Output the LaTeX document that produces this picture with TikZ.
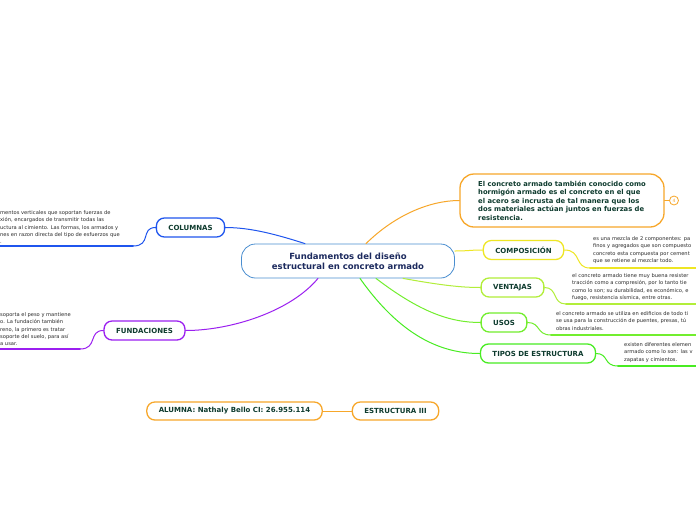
\documentclass[tikz,border=0pt]{standalone}
\usepackage{fontspec}
\setmainfont{DejaVu Sans}
\usepackage{xcolor}
\usepackage{tikz}
\usetikzlibrary{calc}
\definecolor{bg}{HTML}{FFFFFF}
\definecolor{ink}{HTML}{0E3B2E}
\definecolor{navy}{HTML}{1C2A5E}
\definecolor{muted}{HTML}{2A2A2A}
\definecolor{rootc}{HTML}{4A8ED0}
\definecolor{colc}{HTML}{1F55EE}
\definecolor{func}{HTML}{9B1FF0}
\definecolor{orng}{HTML}{F7A72A}
\definecolor{yell}{HTML}{EEE624}
\definecolor{lime}{HTML}{B2EE3A}
\definecolor{grn}{HTML}{72EE2E}
\definecolor{grnb}{HTML}{48EC22}
\tikzset{
  root/.style={draw=rootc, line width=0.8pt, rounded corners=14pt, minimum width=213pt, minimum height=34pt, align=center, text=navy, font=\bfseries\fontsize{8.5}{10.5}\selectfont},
  topic/.style={fill=bg, line width=1.3pt, rounded corners=8pt, minimum height=19pt, inner xsep=12pt, text=ink, font=\bfseries\fontsize{7}{8}\selectfont},
  note/.style={anchor=north west, inner sep=0pt, align=left, text=muted, font=\fontsize{5.15}{7.2}\selectfont},
  link/.style={line width=1pt, line cap=round},
  under/.style={line width=1.8pt, line cap=round},
}
\begin{document}
\begin{tikzpicture}[x=1pt,y=-1pt]
  \useasboundingbox[fill=bg] (0,0) rectangle (696,520);
  \clip (0,0) rectangle (696,520);

  % root and main topics
  \node[root] (fund) at (348,261) {Fundamentos del diseño\\estructural en concreto armado};
  \node[topic, draw=colc] (col) at (190.5,227.5) {COLUMNAS};
  \node[topic, draw=func] (fun) at (144.5,330.5) {FUNDACIONES};
  \node[topic, draw=orng, rounded corners=14pt, minimum width=204pt, minimum height=53pt, align=left, font=\bfseries\fontsize{6.8}{8.5}\selectfont] (def) at (562,200.5)
    {El concreto armado también conocido como\\hormigón armado es el concreto en el que\\el acero se incrusta de tal manera que los\\dos materiales actúan juntos en fuerzas de\\resistencia.};
  \node[circle, draw=orng, line width=0.8pt, inner sep=0pt, minimum size=9pt, text=orng, font=\fontsize{4.5}{5}\selectfont] (cnt) at (674,200.5) {4};
  \node[topic, draw=yell] (comp) at (523.5,250) {COMPOSICIÓN};
  \node[topic, draw=lime] (ven) at (512.5,287.5) {VENTAJAS};
  \node[topic, draw=grn] (usos) at (504,322.5) {USOS};
  \node[topic, draw=grnb] (tipos) at (538,353.5) {TIPOS DE ESTRUCTURA};

  % notes
  \node[note] (colnote) at (0,210.5) {mentos verticales que soportan fuerzas de\\xión, encargados de transmitir todas las\\uctura al cimiento. Las formas, los armados y\\nes en razon directa del tipo de esfuerzos que\\.};
  \node[note] (funnote) at (0,312.5) {soporta el peso y mantiene\\o. La fundación también\\reno, la primero es tratar\\soporte del suelo, para así\\a usar.};
  \node[note] (compnote) at (593,236.5) {es una mezcla de 2 componentes: pa\\finos y agregados que son compuesto\\concreto esta compuesta por cement\\que se retiene al mezclar todo.};
  \node[note] (vennote) at (572,273.5) {el concreto armado tiene muy buena resister\\tracción como a compresión, por lo tanto tie\\como lo son; su durabilidad, es económico, e\\fuego, resistencia sísmica, entre otras.};
  \node[note] (usosnote) at (556,311.5) {el concreto armado se utiliza en edificios de todo ti\\se usa para la construcción de puentes, presas, tú\\obras industriales.};
  \node[note] (tiposnote) at (624,342.5) {existen diferentes elemen\\armado como lo son: las v\\zapatas y cimientos.};

  % bottom pair
  \node[topic, draw=orng, minimum height=18pt] (alu) at (234.5,411) {ALUMNA: Nathaly Bello CI: 26.955.114};
  \node[topic, draw=orng, minimum height=18pt] (est) at (395.5,411) {ESTRUCTURA III};

  % connectors from root
  \draw[link, colc] ([xshift=-43pt]fund.north) .. controls (275,234) and (250,227.5) .. (col.east);
  \draw[link, func] ([xshift=-30pt]fund.south) .. controls (290,312) and (230,330.5) .. (fun.east);
  \draw[link, orng] ([xshift=18pt]fund.north) .. controls (395,215) and (430,200.5) .. (def.west);
  \draw[link, yell] ([yshift=10pt]fund.east) .. controls (468,251) and (470,250) .. (comp.west);
  \draw[link, lime] ([xshift=55pt]fund.south) .. controls (440,285) and (460,287.5) .. (ven.west);
  \draw[link, grn] ([xshift=28pt]fund.south) .. controls (420,312) and (450,322.5) .. (usos.west);
  \draw[link, grnb] ([xshift=12pt]fund.south) .. controls (400,335) and (440,353.5) .. (tipos.west);
  \draw[link, orng] (def.east) -- (cnt.west);
  \draw[link, orng] (alu.east) -- (est.west);

  % connectors to notes
  \draw[link, colc] (col.west) .. controls (140,227.5) and (152,246) .. (133,246);
  \draw[under, colc] (133,246) -- (0,246);
  \draw[link, func] (fun.west) .. controls (88,330.5) and (98,349) .. (80,349);
  \draw[under, func] (80,349) -- (0,349);
  \draw[link, yell] (comp.east) .. controls (582,250) and (574,268) .. (590,268);
  \draw[under, yell] (590,268) -- (696,268);
  \draw[link, lime] (ven.east) .. controls (558,287.5) and (552,304) .. (566,304);
  \draw[under, lime] (566,304) -- (696,304);
  \draw[link, grn] (usos.east) .. controls (541,322.5) and (536,335) .. (551,335);
  \draw[under, grn] (551,335) -- (696,335);
  \draw[link, grnb] (tipos.east) .. controls (609,353.5) and (603,366) .. (618,366);
  \draw[under, grnb] (618,366) -- (696,366);
\end{tikzpicture}
\end{document}
